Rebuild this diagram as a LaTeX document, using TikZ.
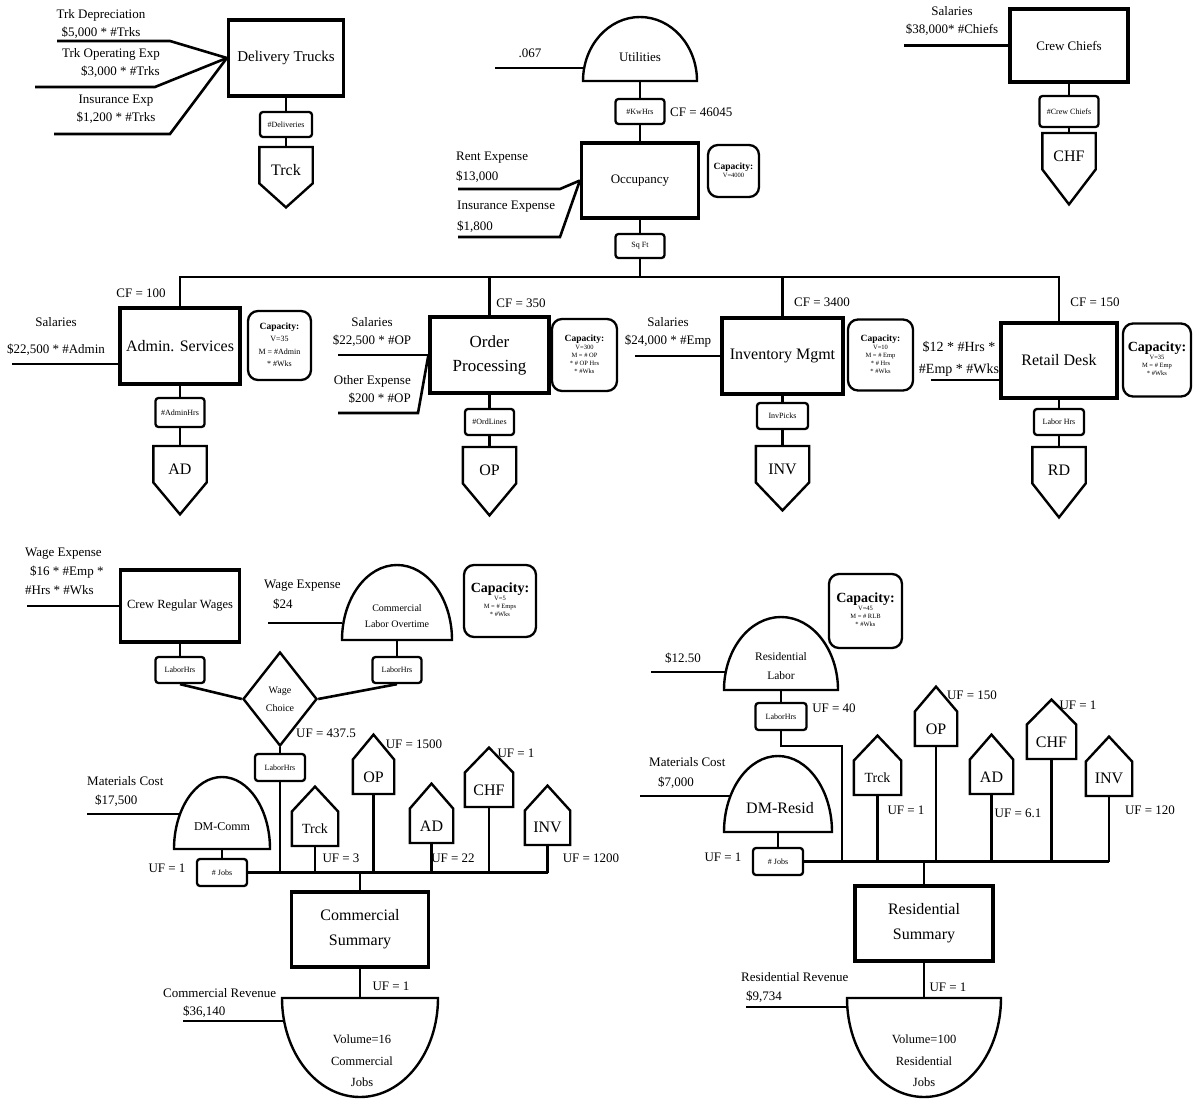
\documentclass[tikz,border=0pt]{standalone}
\usepackage{fontspec}
\setmainfont{Liberation Serif}
\usetikzlibrary{shapes.geometric,calc}

\newcommand{\fsz}[2]{\fontsize{#1}{#2}\selectfont}
% capacity text: bold size, small size, small skip, lines
\newcommand{\capnote}[4]{\fsz{#2}{#3}\begin{tabular}{@{}c@{}}\fsz{#1}{#1}\bfseries Capacity:\\#4\end{tabular}}
% pentagon pointing down: name, x, top, tip, text
\newcommand{\droptag}[5]{%
  \node[shp, minimum width=53pt, minimum height=36pt, anchor=north, text height=21pt, text depth=0pt] (#1) at (#2,#3) {#5};
  \draw[shapeline] (#1.north west) -- (#1.north east) -- (#1.south east)
    -- ($(#1.south)+(0,#4)$) -- (#1.south west) -- cycle;}
% pentagon pointing up: name, x, bottom, width, text
\newcommand{\housetag}[5]{%
  \node[shp, minimum width=#4pt, minimum height=34pt, anchor=south] (#1) at (#2,#3) {#5};
  \draw[shapeline] (#1.south west) -- (#1.north west) -- ($(#1.north)+(0,-25)$)
    -- (#1.north east) -- (#1.south east) -- cycle;}
% dome: name of base point, x, base, half width, height
\newcommand{\dome}[5]{%
  \coordinate (#1) at (#2,#3);
  \draw[shapeline] (#2-#4,#3) arc[start angle=180, end angle=0, x radius=#4pt, y radius=#5pt] -- cycle;}
% bowl: name of top point, x, top, half width, depth
\newcommand{\bowl}[5]{%
  \coordinate (#1) at (#2,#3);
  \draw[shapeline] (#2-#4,#3) -- (#2+#4,#3) arc[start angle=0, end angle=-180, x radius=#4pt, y radius=#5pt] -- cycle;}

\tikzset{
  box/.style={draw, line width=3.2pt, inner sep=0pt, align=center, font=\fsz{16}{24}},
  tag/.style={draw, line width=2.3pt, rounded corners=3pt, inner sep=0pt, minimum width=50pt, minimum height=26pt, font=\fsz{8}{9}},
  capbox/.style={draw, line width=2.3pt, rounded corners=10pt, inner sep=0pt},
  link/.style={line width=2.6pt},
  shapeline/.style={line width=2.4pt, line join=miter},
  shp/.style={inner sep=0pt, font=\fsz{16}{18}},
  note/.style={inner sep=0pt, align=center, font=\fsz{13}{18}},
  lbl/.style={inner sep=0pt, align=center},
}

\begin{document}
\begin{tikzpicture}[x=1pt, y=-1pt]
  \useasboundingbox (0,0) rectangle (1194,1099);

  % delivery trucks
  \node[box, minimum width=115pt, minimum height=76pt, font=\fsz{15}{17}] (trucks) at (286,58) {Delivery Trucks};
  \node[tag, minimum width=52pt, minimum height=25pt] (deliv) at (286,124.5) {\#Deliveries};
  \droptag{trckA}{286}{147}{24}{Trck}
  \draw[link] (trucks) -- (deliv) -- (trckA);
  \node[note] (deprn) at (101,23.5) {Trk Depreciation\\\$5,000 * \#Trks};
  \node[note, align=right, anchor=east] (opexp) at (160,62.5) {Trk Operating Exp\\\$3,000 * \#Trks};
  \node[note] (insexp) at (116,109.5) {Insurance Exp\\\$1,200 * \#Trks};
  \coordinate (deprl) at (57,41);
  \coordinate (opl) at (35,87);
  \coordinate (insl) at (54,134);
  \draw[link] (deprl) -- ++(113,0) -- (trucks.west);
  \draw[link] (opl) -- ++(120,0) -- (trucks.west);
  \draw[link] (insl) -- ++(116,0) -- (trucks.west);

  % occupancy
  \dome{utilB}{640}{81}{57}{64}
  \node[lbl, font=\fsz{13}{15}] (util) at (640,57) {Utilities};
  \node[note] (k067) at (530,53) {.067};
  \coordinate (l067) at (495,68);
  \draw[link] (l067) -- ++(89,0);
  \node[tag, minimum width=49pt, minimum height=25pt] (kwh) at (640,111.5) {\#KwHrs};
  \node[note, anchor=west] (cfocc) at (670,112) {CF = 46045};
  \node[box, minimum width=117pt, minimum height=75pt, font=\fsz{13}{15}] (occ) at (640,180.5) {Occupancy};
  \draw[link] (utilB) -- (kwh) -- (occ);
  \node[note, align=left, anchor=west, font=\fsz{13}{20.5}] (rent) at (456,167) {Rent Expense\\\$13,000};
  \node[note, align=left, anchor=west, font=\fsz{13}{20.5}] (insocc) at (457,216.5) {Insurance Expense\\\$1,800};
  \coordinate (rentl) at (458,189);
  \coordinate (insol) at (458,237);
  \draw[link] (rentl) -- ++(102,0) -- (occ.west);
  \draw[link] (insol) -- ++(102,0) -- (occ.west);
  \node[capbox, minimum width=51pt, minimum height=52pt] (capocc) at (733.5,171) {\capnote{9.5}{6.5}{8}{V=4000}};
  \node[tag, minimum width=49pt, minimum height=24pt] (sqft) at (640,246) {Sq Ft};
  \draw[link] (occ) -- (sqft);

  % crew chiefs
  \node[box, minimum width=118pt, minimum height=73pt, font=\fsz{13}{15}] (chiefs) at (1069,45.5) {Crew Chiefs};
  \node[note] (salchf) at (952,21) {Salaries\\\$38,000* \#Chiefs};
  \coordinate (salchfl) at (904,45.5);
  \draw[link] (salchfl) -- (chiefs.west);
  \node[tag, minimum width=59pt, minimum height=31pt] (crewc) at (1069,111.5) {\#Crew Chiefs};
  \droptag{chfA}{1069}{133}{35}{CHF}
  \draw[link] (chiefs) -- (crewc) -- (chfA);

  % departments
  \coordinate (busR) at (1059,277);
  \node[box, minimum width=120pt, minimum height=76pt] (admin) at (180,346) {Admin. Services};
  \node[box, minimum width=119pt, minimum height=76pt, font=\fsz{17}{24}] (ordp) at (489.5,355) {Order\\Processing};
  \node[box, minimum width=121pt, minimum height=76pt] (invm) at (782.5,356) {Inventory Mgmt};
  \node[box, minimum width=116pt, minimum height=75pt] (retail) at (1059,360.5) {Retail Desk};
  \draw[link] (admin) |- (busR) -- (retail);
  \draw[link] (sqft) -- (sqft |- busR);
  \draw[link] (ordp) -- (ordp |- busR);
  \draw[link] (invm) -- (invm |- busR);
  \node[note] (cfad) at (141,293) {CF = 100};
  \node[note] (cfop) at (521,303) {CF = 350};
  \node[note] (cfinv) at (822,302) {CF = 3400};
  \node[note] (cfrd) at (1095,302) {CF = 150};

  \node[note, font=\fsz{13}{27}] (salad) at (56,336.5) {Salaries\\\$22,500 * \#Admin};
  \coordinate (saladl) at (12,364);
  \draw[link] (saladl) -- (saladl -| admin.west);
  \node[note] (salop) at (372,332) {Salaries\\\$22,500 * \#OP};
  \node[note, align=right, anchor=east] (othop) at (411,389) {Other Expense\\\$200 * \#OP};
  \coordinate (salopl) at (338,355);
  \coordinate (othopl) at (338,413);
  \draw[link] (salopl) -- (ordp.west);
  \draw[link] (othopl) -- ++(80,0) -- (ordp.west);
  \node[note] (salinv) at (668,332.5) {Salaries\\\$24,000 * \#Emp};
  \coordinate (salinvl) at (635,356);
  \draw[link] (salinvl) -- (invm.west);
  \node[note, font=\fsz{14}{22}] (salrd) at (959,359) {\$12 * \#Hrs *\\\#Emp * \#Wks};
  \coordinate (salrdl) at (931,380);
  \draw[link] (salrdl) -- (salrdl -| retail.west);

  \node[capbox, minimum width=63pt, minimum height=69pt] (capad) at (279.5,345.5) {\capnote{9.5}{8}{12.5}{V=35\\M = \#Admin\\{}* \#Wks}};
  \node[capbox, minimum width=65pt, minimum height=72pt] (capop) at (584.5,355) {\capnote{9.5}{6.5}{8}{V=300\\M = \# OP\\{}* \# OP Hrs\\{}* \#Wks}};
  \node[capbox, minimum width=65pt, minimum height=71pt] (capinv) at (880.5,355) {\capnote{9.5}{6.5}{8}{V=10\\M = \# Emp\\{}* \# Hrs\\{}* \#Wks}};
  \node[capbox, minimum width=68pt, minimum height=73pt] (caprd) at (1157,360) {\capnote{14}{6.5}{8}{V=35\\M = \# Emp\\{}* \#Wks}};

  \node[tag, minimum width=49pt, minimum height=29pt] (adhrs) at (180,412.5) {\#AdminHrs};
  \node[tag, minimum width=49pt] (ordl) at (489.5,422) {\#OrdLines};
  \node[tag, minimum width=51pt] (invp) at (782.5,416) {InvPicks};
  \node[tag] (rdh) at (1059,422) {Labor Hrs};
  \droptag{adA}{180}{446}{32}{AD}
  \droptag{opA}{489.5}{447}{32}{OP}
  \droptag{invA}{782.5}{446}{28}{INV}
  \droptag{rdA}{1059}{447}{34}{RD}
  \draw[link] (admin) -- (adhrs) -- (adA);
  \draw[link] (ordp) -- (ordl) -- (opA);
  \draw[link] (invm) -- (invp) -- (invA);
  \draw[link] (retail) -- (rdh) -- (rdA);

  % commercial
  \node[box, minimum width=119pt, minimum height=72pt, font=\fsz{12.5}{14}] (crw) at (180,606) {Crew Regular Wages};
  \node[note, align=left, anchor=west, font=\fsz{13}{19}] (wagec) at (25,571) {Wage Expense\\\hspace*{5pt}\$16 * \#Emp *\\\#Hrs * \#Wks};
  \coordinate (wagecl) at (27,606);
  \draw[link] (wagecl) -- (crw.west);
  \dome{otB}{397}{640}{55}{75}
  \node[lbl, font=\fsz{10}{16}] (ot) at (397,616) {Commercial\\Labor Overtime};
  \node[note, align=left, anchor=west, font=\fsz{13}{20}] (wageo) at (264,595) {Wage Expense\\\hspace*{9pt}\$24};
  \coordinate (wageol) at (268,623);
  \draw[link] (wageol) -- ++(74,0);
  \node[capbox, minimum width=72pt, minimum height=72pt] (capc) at (500,601) {\capnote{14}{6.5}{8}{V=5\\M = \# Emps\\{}* \#Wks}};
  \node[tag, minimum width=49pt] (lhl) at (180,670) {LaborHrs};
  \node[tag, minimum width=49pt] (lhr) at (397,670) {LaborHrs};
  \draw[link] (crw) -- (lhl);
  \draw[link] (otB) -- (lhr);
  \node[draw, diamond, line width=2.4pt, minimum width=74pt, minimum height=94pt, inner sep=0pt, align=center, font=\fsz{10}{18}] (wage) at (280,699) {Wage\\Choice};
  \draw[link] (lhl.south) -- (wage.west);
  \draw[link] (wage.east) -- (lhr.south);
  \node[tag, minimum height=27pt] (lhc) at (280,767.5) {LaborHrs};
  \draw[link] (wage) -- (lhc);
  \node[note, anchor=west] (ufw) at (296,733) {UF = 437.5};

  \dome{dmcB}{222}{849}{48}{72}
  \node[lbl, font=\fsz{12}{14}] (dmc) at (222,827) {DM-Comm};
  \node[tag, minimum height=27pt] (cjobs) at (222,872.5) {\# Jobs};
  \draw[link] (dmcB) -- (cjobs);
  \coordinate (cbus) at (547.5,872.5);
  \draw[link] (cjobs) -- (cbus);
  \draw[link] (lhc) -- (lhc |- cbus);
  \node[note, align=left, anchor=west, font=\fsz{13}{19}] (matc) at (87,791.5) {Materials Cost\\\hspace*{8pt}\$17,500};
  \coordinate (matcl) at (87,814);
  \draw[link] (matcl) -- ++(92,0);
  \node[note] (ufcj) at (167,868) {UF = 1};

  \housetag{ctrck}{315}{846}{46}{\fsz{14}{16}Trck}
  \housetag{cop}{373.5}{794}{41}{OP}
  \housetag{cad}{431.5}{843}{43}{AD}
  \housetag{cchf}{489}{807}{48}{CHF}
  \housetag{cinv}{547.5}{845}{45}{INV}
  \foreach \h in {ctrck,cop,cad,cchf,cinv}
    \draw[link] (\h) -- (\h |- cbus);
  \node[note] (ufct) at (341,858) {UF = 3};
  \node[note] (ufco) at (414,744) {UF = 1500};
  \node[note] (ufca) at (453,858) {UF = 22};
  \node[note] (ufcc) at (516,753) {UF = 1};
  \node[note] (ufci) at (591,858) {UF = 1200};

  \node[box, minimum width=137pt, minimum height=75pt, font=\fsz{16}{25}] (csum) at (360,929.5) {Commercial\\Summary};
  \draw[link] (csum) -- (csum |- cbus);
  \bowl{cjB}{360}{998}{78}{99}
  \draw[link] (csum) -- (cjB);
  \node[lbl, font=\fsz{12.5}{21.5}] (cjv) at (362,1061) {Volume=16\\Commercial\\Jobs};
  \node[note] (ufcs) at (391,986) {UF = 1};
  \node[note, align=left, anchor=west] (crev) at (163,1003) {Commercial Revenue\\\hspace*{20pt}\$36,140};
  \coordinate (crevl) at (183,1021);
  \draw[link] (crevl) -- ++(101,0);

  % residential
  \node[capbox, minimum width=73pt, minimum height=74pt] (capr) at (865.5,611) {\capnote{14}{6.5}{8}{V=45\\M = \# RLB\\{}* \#Wks}};
  \dome{rlB}{781}{690}{57}{73}
  \node[lbl, font=\fsz{11.5}{19}] (rlab) at (781,666.5) {Residential\\Labor};
  \node[note] (r1250) at (683,658) {\$12.50};
  \coordinate (r1250l) at (651,672);
  \draw[link] (r1250l) -- ++(74,0);
  \node[tag, minimum width=51pt, minimum height=27pt] (rlh) at (781,716.5) {LaborHrs};
  \draw[link] (rlB) -- (rlh);
  \node[note] (ufrl) at (834,708) {UF = 40};
  \coordinate (rbend) at (842,746);
  \coordinate (rbus) at (1109,861.5);
  \draw[link] (rlh) |- (rbend) -- (rbend |- rbus);

  \dome{dmrB}{778}{832}{54}{76}
  \node[lbl, font=\fsz{16}{18}] (dmr) at (780,808) {DM-Resid};
  \node[tag, minimum height=27pt] (rjobs) at (778,861.5) {\# Jobs};
  \draw[link] (dmrB) -- (rjobs);
  \draw[link] (rjobs) -- (rbus);
  \node[note, align=left, anchor=west, font=\fsz{13}{20}] (matr) at (649,773) {Materials Cost\\\hspace*{9pt}\$7,000};
  \coordinate (matrl) at (640,796);
  \draw[link] (matrl) -- ++(91,0);
  \node[note] (ufrj) at (723,857) {UF = 1};

  \housetag{rtrck}{877.5}{795}{47}{\fsz{14}{16}Trck}
  \housetag{rop}{936}{746}{42}{OP}
  \housetag{rad}{991.5}{794}{43}{AD}
  \housetag{rchf}{1051.5}{759}{49}{CHF}
  \housetag{rinv}{1109}{796}{46}{INV}
  \foreach \h in {rtrck,rop,rad,rchf,rinv}
    \draw[link] (\h) -- (\h |- rbus);
  \node[note] (ufrt) at (906,810) {UF = 1};
  \node[note] (ufro) at (972,695) {UF = 150};
  \node[note] (ufra) at (1018,813) {UF = 6.1};
  \node[note] (ufrc) at (1078,705) {UF = 1};
  \node[note] (ufri) at (1150,810) {UF = 120};

  \node[box, minimum width=138pt, minimum height=75pt, font=\fsz{16}{25}] (rsum) at (924,923.5) {Residential\\Summary};
  \draw[link] (rsum) -- (rsum |- rbus);
  \bowl{rjB}{924}{998}{77}{99}
  \draw[link] (rsum) -- (rjB);
  \node[lbl, font=\fsz{12.5}{21.5}] (rjv) at (924,1061) {Volume=100\\Residential\\Jobs};
  \node[note] (ufrs) at (948,987) {UF = 1};
  \node[note, align=left, anchor=west, font=\fsz{13}{19}] (rrev) at (741,987.5) {Residential Revenue\\\hspace*{5pt}\$9,734};
  \coordinate (rrevl) at (746,1007);
  \draw[link] (rrevl) -- ++(102,0);
\end{tikzpicture}
\end{document}
